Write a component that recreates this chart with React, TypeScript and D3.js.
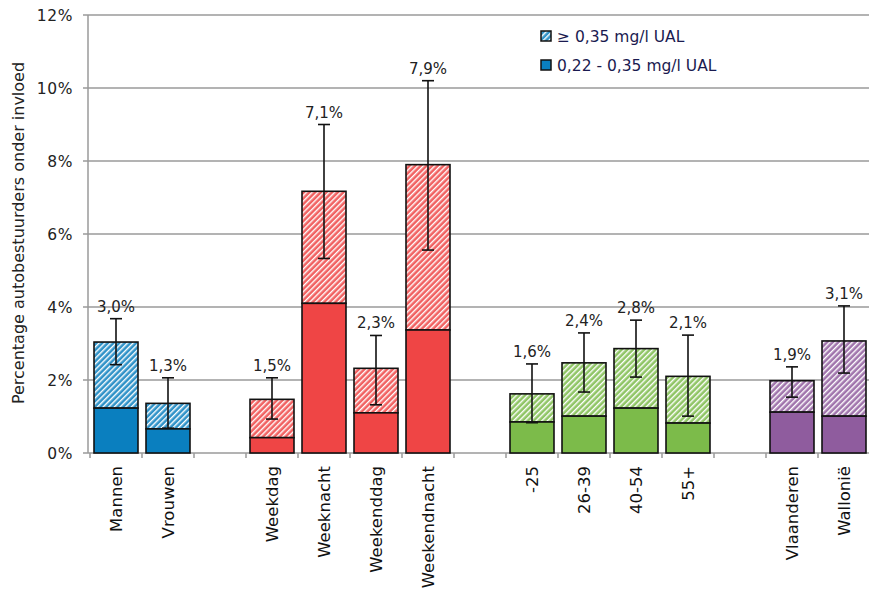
import React from "react";
import * as d3 from "d3";

const categories = ["Mannen", "Vrouwen", "", "Weekdag", "Weeknacht", "Weekenddag", "Weekendnacht", "", "-25", "26-39", "40-54", "55+", "", "Vlaanderen", "Wallonië"];
const groupOf = ["blue", "blue", "", "red", "red", "red", "red", "", "green", "green", "green", "green", "", "purple", "purple"];
const lowValues = [1.23, 0.66, null, 0.42, 4.1, 1.1, 3.37, null, 0.85, 1.01, 1.23, 0.82, null, 1.12, 1.01];
const totalValues = [3.04, 1.36, null, 1.47, 7.17, 2.32, 7.9, null, 1.62, 2.47, 2.86, 2.1, null, 1.98, 3.07];
const totalLabels = ["3,0%", "1,3%", "", "1,5%", "7,1%", "2,3%", "7,9%", "", "1,6%", "2,4%", "2,8%", "2,1%", "", "1,9%", "3,1%"];
const errLow = [2.42, 0.68, null, 0.93, 5.33, 1.32, 5.56, null, 0.83, 1.67, 2.08, 1.01, null, 1.53, 2.19];
const errHigh = [3.68, 2.06, null, 2.06, 9.0, 3.22, 10.2, null, 2.44, 3.29, 3.64, 3.23, null, 2.36, 4.03];
const yTicks = [0, 2, 4, 6, 8, 10, 12];
const legendLabels = ["≥ 0,35 mg/l UAL", "0,22 - 0,35 mg/l UAL"];

const colors: Record<string, string> = {
  blue: "#0a7fbf",
  red: "#ef4545",
  green: "#7cbb4a",
  purple: "#8f5c9e",
};

const FONT = "DejaVu Sans, Verdana, sans-serif";

export default function App() {
  const W = 869, H = 592;
  const left = 88, top = 15, bottom = 453;
  const x = d3.scaleBand<number>().domain(categories.map((_, i) => i)).range([90, 870]).paddingInner(0.154).paddingOuter(0.077);
  const y = d3.scaleLinear().domain([0, 12]).range([bottom, top]);
  const step = x.step();
  const bw = x.bandwidth();

  return (
    <svg width={W} height={H} style={{ position: "absolute", left: 0, top: 0, background: "#fff" }} fontFamily={FONT}>
      <defs>
        {Object.keys(colors).map((k) => (
          <pattern key={k} id={`pat-${k}`} patternUnits="userSpaceOnUse" width="4" height="4" patternTransform="rotate(45)">
            <rect width="4" height="4" fill={colors[k]} opacity="0.85" />
            <rect width="1.4" height="4" fill="#fff" />
          </pattern>
        ))}
      </defs>
      {yTicks.map((t) => (
        <g key={t}>
          <line x1={left} x2={W} y1={y(t)} y2={y(t)} stroke="#9a9a9a" strokeWidth={1.5} />
          <line x1={left - 5} x2={left} y1={y(t)} y2={y(t)} stroke="#9a9a9a" strokeWidth={1.5} />
          <text x={73} y={y(t)} dy="0.36em" textAnchor="end" fontSize={15.5} fill="#222" letterSpacing={0.6}>{t}%</text>
        </g>
      ))}
      <line x1={left} x2={left} y1={top} y2={bottom} stroke="#9a9a9a" strokeWidth={1.5} />
      {d3.range(categories.length + 1).map((i) => (
        <line key={i} x1={90 + i * step} x2={90 + i * step} y1={bottom} y2={bottom + 5} stroke="#9a9a9a" strokeWidth={1.5} />
      ))}
      {categories.map((c, i) => {
        const lo = lowValues[i];
        const tot = totalValues[i];
        if (lo == null || tot == null) return null;
        const g = groupOf[i];
        const bx = x(i)!;
        const cx = bx + bw / 2;
        const eh = errHigh[i]!;
        const el = errLow[i]!;
        return (
          <g key={i}>
            <rect x={bx} y={y(tot)} width={bw} height={y(lo) - y(tot)} fill="#fff" />
            <rect x={bx} y={y(tot)} width={bw} height={y(lo) - y(tot)} fill={`url(#pat-${g})`} stroke="#111" strokeWidth={1.6} />
            <rect x={bx} y={y(lo)} width={bw} height={y(0) - y(lo)} fill={colors[g]} stroke="#111" strokeWidth={1.6} />
            <line x1={cx} x2={cx} y1={y(eh)} y2={y(el)} stroke="#111" strokeWidth={1.6} />
            <line x1={cx - 6} x2={cx + 6} y1={y(eh)} y2={y(eh)} stroke="#111" strokeWidth={1.6} />
            <line x1={cx - 6} x2={cx + 6} y1={y(el)} y2={y(el)} stroke="#111" strokeWidth={1.6} />
            <text x={cx} y={y(eh) - 7} textAnchor="middle" fontSize={15} fill="#222">{totalLabels[i]}</text>
          </g>
        );
      })}
      {categories.map((c, i) => c ? (
        <text key={i} transform={`translate(${x(i)! + bw / 2},${bottom + 13}) rotate(-90)`} textAnchor="end" dy="0.36em" fontSize={16.5} fill="#111">{c}</text>
      ) : null)}
      <text transform={`translate(18,${233}) rotate(-90)`} textAnchor="middle" dy="0.36em" fontSize={16} fill="#222">Percentage autobestuurders onder invloed</text>
      {legendLabels.map((l, i) => (
        <g key={l} transform={`translate(541,${36 + i * 29})`}>
          {i === 0 ? (
            <>
              <rect x={0} y={-5} width={10} height={10} fill="#fff" />
              <rect x={0} y={-5} width={10} height={10} fill="url(#pat-blue)" stroke="#111" strokeWidth={1.5} />
            </>
          ) : (
            <rect x={0} y={-5} width={10} height={10} fill={colors.blue} stroke="#111" strokeWidth={1.5} />
          )}
          <text x={16} y={0} dy="0.36em" fontSize={15.5} fill="#1a1a50">{l}</text>
        </g>
      ))}
    </svg>
  );
}
